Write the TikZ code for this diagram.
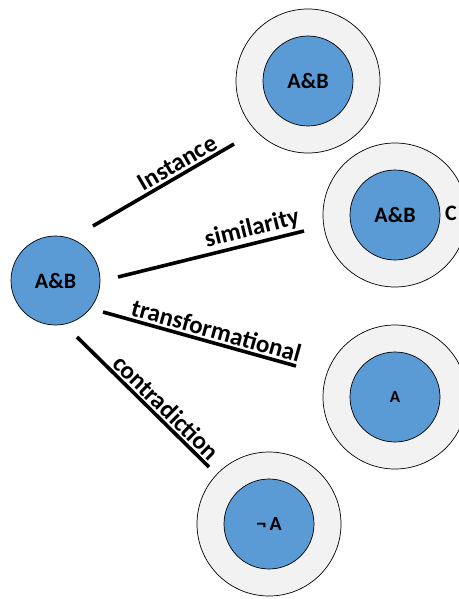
\documentclass[tikz,border=0pt]{standalone}
\usepackage{fontspec}
\setmainfont{Carlito}
\begin{document}
\begin{tikzpicture}[x=1pt,y=-1pt,
  outer/.style={circle,draw=black,line width=0.7pt,fill=gray!10,minimum size=144pt,inner sep=0pt},
  inner/.style={circle,draw=black,line width=0.7pt,fill=blueA,minimum size=90pt,inner sep=0pt,font=\bfseries\fontsize{22}{24}\selectfont},
  link/.style={line width=3.6pt,black},
  lbl/.style={sloped,above,inner sep=2pt,font=\bfseries\fontsize{25}{27}\selectfont}]
\definecolor{blueA}{HTML}{5B9BD5}
\useasboundingbox (0,0) rectangle (458,599);
% target circles
\node[outer] (o1) at (308,81) {};
\node[inner] (i1) at (308,81) {A\&B};
\node[outer] (o2) at (395,215) {};
\node[inner] (i2) at (395,215) {A\&B};
\node[anchor=west,font=\bfseries\fontsize{22}{24}\selectfont,inner sep=0pt] (c) at (445,213) {C};
\node[outer] (o3) at (395,397) {};
\node[inner,font=\bfseries\fontsize{17}{19}\selectfont] (i3) at (395,397) {A};
\node[outer] (o4) at (269,524) {};
\node[inner,font=\bfseries\fontsize{20}{22}\selectfont] (i4) at (269,524) {\textlnot\,A};
% source circle
\node[inner,minimum size=89pt] (src) at (55.5,280.5) {A\&B};
% line end points
\coordinate (a1) at (93,226);  \coordinate (b1) at (234,144);
\coordinate (a2) at (118,277); \coordinate (b2) at (304,231);
\coordinate (a3) at (103,312); \coordinate (b3) at (296,366);
\coordinate (a4) at (77,337);  \coordinate (b4) at (209,467);
\draw[link] (a1) -- node[lbl,pos=0.64] {Instance} (b1);
\draw[link] (a2) -- node[lbl,pos=0.74] {similarity} (b2);
\draw[link] (a3) -- node[lbl,pos=0.57] {transformational} (b3);
\draw[link] (a4) -- node[lbl,pos=0.61] {contradiction} (b4);
\end{tikzpicture}
\end{document}
